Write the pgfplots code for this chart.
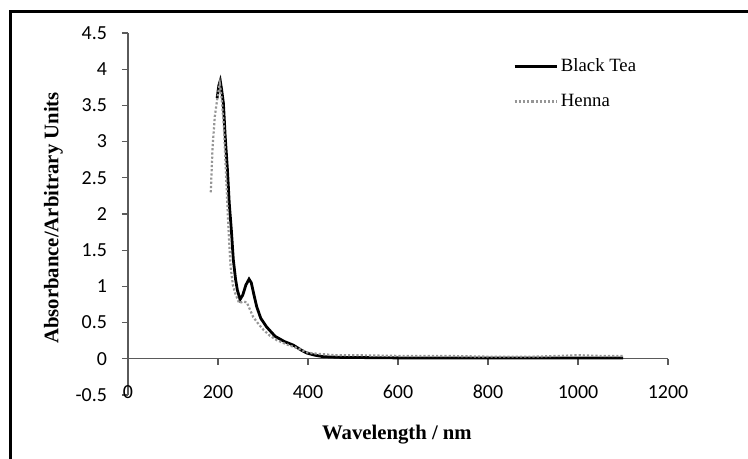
\documentclass[border=0pt]{standalone}
\usepackage{fontspec}
\setmainfont{Liberation Serif}
\newfontfamily\calibri{Carlito}
\usepackage{pgfplots}
\pgfplotsset{compat=1.18}
\definecolor{axgray}{RGB}{90,90,90}
\definecolor{henna}{RGB}{150,150,150}

\pgfplotstableread{
x y
198 3.60
202 3.78
205 3.84
208 3.72
212 3.53
216 3.07
221 2.61
225 2.15
230 1.75
234 1.37
239 1.10
243 0.95
249 0.82
255 0.88
262 1.02
269 1.10
274 1.05
280 0.88
286 0.72
295 0.56
308 0.44
327 0.31
347 0.24
367 0.19
385 0.12
397 0.08
415 0.05
433 0.03
470 0.02
550 0.015
650 0.01
800 0.01
950 0.01
1100 0.01
}\blacktea

\pgfplotstableread{
x y
184 2.30
186 2.62
188 2.93
193 3.35
199 3.62
204 3.80
208 3.60
213 3.21
218 2.52
223 1.83
228 1.27
233 1.02
238 0.91
247 0.77
256 0.79
264 0.78
271 0.68
278 0.58
290 0.48
301 0.40
315 0.32
330 0.26
352 0.20
375 0.15
397 0.09
405 0.08
420 0.07
440 0.06
460 0.05
500 0.05
600 0.04
700 0.04
800 0.03
900 0.03
960 0.04
1000 0.05
1050 0.04
1100 0.04
}\henna

\begin{document}
\begin{tikzpicture}
\useasboundingbox (0,0) rectangle (374bp,229.5bp);
% chart frame (only left and top edges show)
\draw[line width=1.5bp] (5bp,0) -- (5bp,223.5bp) -- (374bp,223.5bp);
\begin{axis}[
  at={(64bp,32bp)}, anchor=south west,
  scale only axis, width=270bp, height=181bp,
  xmin=0, xmax=1200, ymin=-0.5, ymax=4.5,
  xtick={0,200,...,1200}, ytick={-0.5,0,...,4.5},
  axis x line=bottom, axis y line=left,
  x axis line style={draw=none, -}, y axis line style={axgray, line width=0.6bp, -},
  xtick style={draw=none},
  ytick style={axgray, line width=0.6bp},
  tick align=outside, major tick length=3bp,
  /pgf/number format/assume math mode=true,
  /pgf/number format/.cd, fixed, use period, 1000 sep={},
  /pgfplots/.cd,
  tick label style={font=\calibri\fontsize{10}{12}\selectfont},
  xticklabel style={yshift=12bp, text height=7bp, text depth=0pt},
  yticklabel style={xshift=-4bp},
  xlabel={\textbf{Wavelength / nm}},
  ylabel={\textbf{Absorbance/Arbitrary Units}},
  label style={font=\fontsize{10.4}{12}\selectfont},
  xlabel style={at={(axis description cs:0.498,-0.11)}, anchor=center},
  ylabel style={at={(axis description cs:-0.138,0.489)}, anchor=center, rotate=0},
  legend cell align=left,
  legend style={draw=none, fill=none, at={(axis cs:855,4.19)}, anchor=north west,
    font=\fontsize{9.4}{11}\selectfont, row sep=6.5bp, inner sep=0pt,
    nodes={inner sep=1.5bp}},
  legend image code/.code={\draw[#1] (0bp,0bp) -- (21bp,0bp);},
  clip=false,
]
% x axis line drawn through y = 0, ticks below it
\draw[axgray, line width=0.6bp] (axis cs:0,0) -- (axis cs:1200,0);
\pgfplotsinvokeforeach{0,200,400,600,800,1000,1200}{
  \draw[axgray, line width=0.6bp] (axis cs:#1,0) -- ([yshift=-3bp]axis cs:#1,0);
}
\addplot[black, line width=1.4bp] table[x=x,y=y] {\blacktea};
\addlegendentry{Black Tea}
\addplot[henna, line width=1.1bp, densely dotted] table[x=x,y=y] {\henna};
\addlegendentry{Henna}
\end{axis}
\end{tikzpicture}
\end{document}
